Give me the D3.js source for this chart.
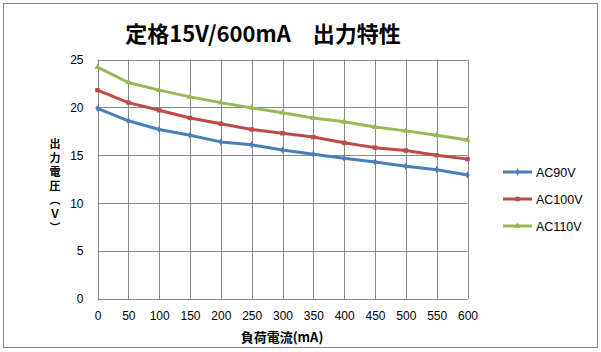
<!DOCTYPE html>
<html><head><meta charset="utf-8">
<script src="https://cdn.jsdelivr.net/npm/d3@7"></script>
<style>body{margin:0;background:#fff}svg{display:block}</style>
</head><body>
<script>
const xValues = [0,50,100,150,200,250,300,350,400,450,500,550,600];
const ac90 = [19.9,18.6,17.7,17.1,16.4,16.1,15.55,15.1,14.7,14.3,13.85,13.5,12.95];
const ac100 = [21.8,20.5,19.7,18.9,18.3,17.7,17.3,16.9,16.3,15.8,15.5,15.0,14.6];
const ac110 = [24.2,22.6,21.8,21.1,20.5,19.95,19.45,18.9,18.5,17.95,17.55,17.1,16.6];
const seriesNames = ["AC90V","AC100V","AC110V"];
const yTicks = [0,5,10,15,20,25];
const title = "定格15V/600mA　出力特性";
const xTitle = "負荷電流(mA)";
const yTitle = "出力電圧（Ｖ）";

const W=601,H=352;
const svg=d3.select("body").append("svg").attr("width",W).attr("height",H);
svg.append("rect").attr("x",3.5).attr("y",3.5).attr("width",594).attr("height",344)
  .attr("fill","#fff").attr("stroke","#888");
const x=d3.scaleLinear().domain([0,600]).range([97.5,467.5]);
const y=d3.scaleLinear().domain([0,25]).range([299,59.5]);
const font="'Liberation Sans', Arial, sans-serif";
const cjk="'Noto Sans CJK JP', sans-serif";

// grid
svg.append("g").selectAll("line").data(xValues).join("line")
  .attr("x1",d=>Math.round(x(d))+0.5).attr("x2",d=>Math.round(x(d))+0.5)
  .attr("y1",y(25)).attr("y2",y(0)).attr("stroke","#888").attr("stroke-width",1);
svg.append("g").selectAll("line").data(yTicks).join("line")
  .attr("y1",d=>Math.round(y(d))+0.5).attr("y2",d=>Math.round(y(d))+0.5)
  .attr("x1",x(0)).attr("x2",x(600)).attr("stroke","#888").attr("stroke-width",1);

// axes labels
const xa=d3.axisBottom(x).tickValues(xValues).tickSize(0).tickPadding(12);
const gx=svg.append("g").attr("transform",`translate(0,${y(0)})`).call(xa);
gx.select(".domain").remove();
gx.selectAll("text").attr("font-family",font).attr("font-size",12).attr("fill","#000");
const ya=d3.axisLeft(y).tickValues(yTicks).tickSize(0).tickPadding(14);
const gy=svg.append("g").attr("transform",`translate(${x(0)},0)`).call(ya);
gy.select(".domain").remove();
gy.selectAll("text").attr("font-family",font).attr("font-size",12).attr("fill","#000");

// series
const colors=["#4a7ebb","#be4b48","#98b954"];
const data=[ac90,ac100,ac110];
const line=d3.line().x((d,i)=>x(xValues[i])).y(d=>y(d));
const symbols=[d3.symbolDiamond,d3.symbolSquare,d3.symbolTriangle];
const symSize=[16,20,18];
data.forEach((s,k)=>{
  svg.append("path").datum(s).attr("d",line).attr("fill","none")
    .attr("stroke",colors[k]).attr("stroke-width",3).attr("stroke-linejoin","round");
  svg.append("g").selectAll("path").data(s).join("path")
    .attr("transform",(d,i)=>`translate(${x(xValues[i])},${y(d)})`)
    .attr("d",d3.symbol().type(symbols[k]).size(symSize[k])).attr("fill",colors[k]);
});

// legend
const ly=[172,199,226];
seriesNames.forEach((n,k)=>{
  svg.append("line").attr("x1",503).attr("x2",532).attr("y1",ly[k]).attr("y2",ly[k])
    .attr("stroke",colors[k]).attr("stroke-width",3);
  svg.append("path").attr("transform",`translate(517.5,${ly[k]})`)
    .attr("d",d3.symbol().type(symbols[k]).size(symSize[k])).attr("fill",colors[k]);
  svg.append("text").attr("x",536).attr("y",ly[k]+4.5).text(n)
    .attr("font-family",font).attr("font-size",12.5).attr("fill","#000");
});

// titles
svg.append("text").attr("x",263).attr("y",42).attr("text-anchor","middle")
  .attr("font-family",cjk).attr("font-weight","bold").attr("font-size",22).text(title);
svg.append("text").attr("x",282).attr("y",342).attr("text-anchor","middle")
  .attr("font-family",cjk).attr("font-weight","bold").attr("font-size",13).text(xTitle);
svg.append("text").attr("x",55).attr("y",138)
  .style("writing-mode","vertical-rl").style("text-orientation","upright").attr("letter-spacing",3)
  .attr("font-family",cjk).attr("font-weight","bold").attr("font-size",11).text(yTitle);
</script>
</body></html>
